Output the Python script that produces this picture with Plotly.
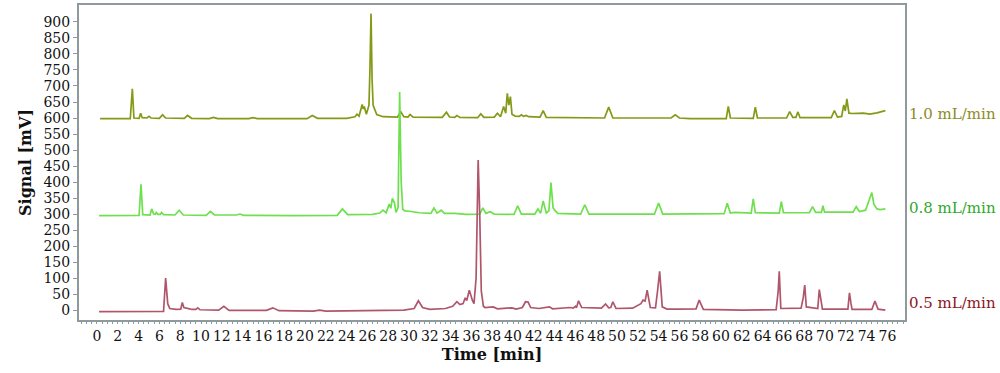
import plotly.graph_objects as go

# (time [min], signal [mV]) points
flow_10 = [(0.3,598),(3.2,598),(3.4,691),(3.55,600),(4.05,599),(4.2,615),(4.35,601),(4.8,600),(5.0,605),(5.2,600),
           (6.0,599),(6.3,610),(6.6,600),(8.4,599),(8.7,608),(9.1,599),(10.8,598),(11.2,602),(11.6,598),(14.6,598),
           (15.0,601),(15.4,598),(20.2,598),(20.7,608),(21.2,599),(24.0,599),(24.8,604),(25.0,612),(25.2,606),(25.5,642),
           (25.6,628),(25.7,636),(25.9,612),(26.15,640),(26.25,760),(26.35,926),(26.45,720),(26.55,640),(26.9,611),(27.5,604),
           (28.9,603),(29.2,620),(29.5,604),(29.9,603),(30.1,611),(30.4,603),(33.2,602),(33.6,618),(33.9,603),(34.4,602),
           (34.6,608),(34.9,602),(36.6,601),(36.9,613),(37.2,602),(38.2,603),(38.5,615),(38.8,604),(39.1,636),(39.3,615),
           (39.45,677),(39.6,640),(39.75,667),(39.9,612),(40.2,606),(40.6,605),(40.8,610),(41.0,605),(41.25,608),(41.5,604),
           (42.6,603),(42.9,623),(43.2,602),(48.8,600),(49.2,634),(49.6,600),(55.2,600),(55.6,610),(56.0,600),(57.0,598),
           (60.5,598),(60.7,636),(60.9,600),(63.1,599),(63.3,634),(63.5,600),(66.3,600),(66.6,620),(66.9,602),(67.2,602),
           (67.4,619),(67.6,601),(70.6,601),(70.9,623),(71.2,603),(71.6,605),(71.8,641),(71.95,622),(72.1,660),(72.3,615),
           (72.6,614),(73.7,615),(74.3,612),(75.0,616),(75.8,623)]

flow_08 = [(0.2,295),(4.05,296),(4.23,393),(4.4,298),(5.1,297),(5.26,316),(5.45,300),(5.6,299),(5.7,305),(5.85,299),
           (6.1,299),(6.2,305),(6.4,298),(7.5,297),(7.9,312),(8.3,297),(10.5,296),(10.9,308),(11.3,297),(13.4,297),
           (13.75,300),(14.1,296),(19.0,295),(23.1,296),(23.6,316),(24.1,298),(26.5,299),(27.2,303),(27.5,312),(27.8,304),
           (28.1,331),(28.25,318),(28.4,349),(28.6,335),(28.75,305),(28.95,320),(29.1,681),(29.25,400),(29.4,315),(29.6,310),
           (30.2,308),(31.0,304),(32.1,302),(32.4,319),(32.7,303),(33.1,312),(33.4,302),(34.4,302),(35.5,299),(36.8,300),
           (37.1,319),(37.4,302),(37.8,307),(38.2,300),(40.1,299),(40.45,326),(40.8,300),(42.1,300),(42.4,316),(42.65,302),
           (42.9,341),(43.2,303),(43.45,310),(43.65,398),(43.85,320),(44.0,312),(44.3,302),(46.5,300),(46.9,329),(47.3,300),
           (53.6,300),(54.0,334),(54.4,300),(60.3,301),(60.6,334),(60.9,303),(61.3,305),(62.9,303),(63.1,347),(63.3,304),
           (65.6,303),(65.8,339),(66.0,304),(68.5,304),(68.8,323),(69.1,305),(69.65,305),(69.8,326),(69.95,306),(72.7,306),
           (73.0,323),(73.3,308),(73.9,312),(74.2,341),(74.5,367),(74.7,330),(75.0,316),(75.3,314),(75.8,316)]

flow_05 = [(0.2,-5),(6.4,-4),(6.6,100),(6.8,20),(7.0,5),(7.6,2),(8.05,3),(8.2,24),(8.35,8),(8.7,4),(8.9,4),(9.1,2),
           (9.5,2),(9.7,7),(9.9,1),(11.7,0),(12.2,12),(12.7,-1),(16.3,-1),(16.9,7),(17.5,-2),(20.8,-3),(21.4,0),(22.0,-3),
           (26.8,-2),(27.2,-1),(28.2,0),(29.5,0),(30.5,5),(30.9,29),(31.3,8),(32.0,2),(33.5,5),(34.2,12),(34.6,26),(34.9,17),
           (35.2,20),(35.4,38),(35.55,30),(35.8,62),(36.1,30),(36.25,20),(36.45,100),(36.65,469),(36.8,300),(36.95,60),
           (37.15,12),(37.3,8),(38.1,10),(38.5,4),(39.9,7),(40.3,3),(40.9,8),(41.2,26),(41.45,25),(41.7,8),(42.5,5),
           (43.5,10),(43.8,4),(45.5,8),(45.8,6),(46.0,12),(46.1,7),(46.3,29),(46.6,8),(48.5,6),(48.9,19),(49.2,7),(49.4,8),
           (49.6,26),(49.9,5),(51.5,6),(52.3,20),(52.5,31),(52.7,28),(52.9,62),(53.2,8),(53.7,7),(53.9,60),(54.1,121),
           (54.35,10),(54.8,3),(56.0,3),(57.6,4),(57.9,31),(58.3,2),(62.0,0),(65.3,1),(65.5,60),(65.6,121),(65.75,5),
           (66.5,5),(67.7,6),(67.9,38),(68.05,78),(68.2,10),(69.3,5),(69.45,64),(69.6,30),(69.75,3),(72.2,3),(72.35,54),
           (72.5,20),(72.6,2),(74.5,2),(74.8,28),(75.1,3),(75.8,0)]

series_names = ["1.0 mL/min", "0.8 mL/min", "0.5 mL/min"]
label_y = [614, 320, 22]
x_ticks = list(range(0, 77, 2))
y_ticks = list(range(0, 901, 50))

line_colors = ["#849a16", "#6ee04e", "#b0566c"]
label_colors = ["#8c8c1e", "#2fa82a", "#8c141e"]
FONT = "DejaVu Serif"

fig = go.Figure()
for name, pts, col in zip(series_names, [flow_10, flow_08, flow_05], line_colors):
    fig.add_trace(go.Scatter(x=[p[0] for p in pts], y=[p[1] for p in pts], mode="lines",
                             name=name, line=dict(color=col, width=1.7), showlegend=False))

for name, yv, col in zip(series_names, label_y, label_colors):
    fig.add_annotation(x=1, y=yv, xref="paper", yref="y", text=name, showarrow=False,
                       xanchor="left", yanchor="middle", xshift=2,
                       font=dict(family=FONT, size=15, color=col))

axis_common = dict(showline=True, linecolor="#8e9a9b", linewidth=2, mirror=True,
                   showgrid=False, zeroline=False, ticks="outside", tickcolor="#8e9a9b",
                   tickfont=dict(family=FONT, size=14, color="#111111"))

fig.update_xaxes(range=[-1.73, 77.69], tickvals=x_ticks, ticktext=[str(v) for v in x_ticks],
                 tickangle=0, ticklen=2,
                 title=dict(text="<b>Time [min]</b>", font=dict(family=FONT, size=16, color="#111111"), standoff=6),
                 minor=dict(dtick=0.5, ticks="outside", ticklen=2, tickcolor="#8e9a9b"),
                 **axis_common)
fig.update_yaxes(range=[-31, 953], tickvals=y_ticks, ticktext=[str(v) for v in y_ticks],
                 ticklen=4,
                 title=dict(text="<b>Signal [mV]</b>", font=dict(family=FONT, size=16, color="#111111"), standoff=8),
                 **axis_common)

fig.update_layout(width=1000, height=373, margin=dict(l=79, r=95, t=3, b=53),
                  plot_bgcolor="white", paper_bgcolor="white")

fig.write_html("out.html")
